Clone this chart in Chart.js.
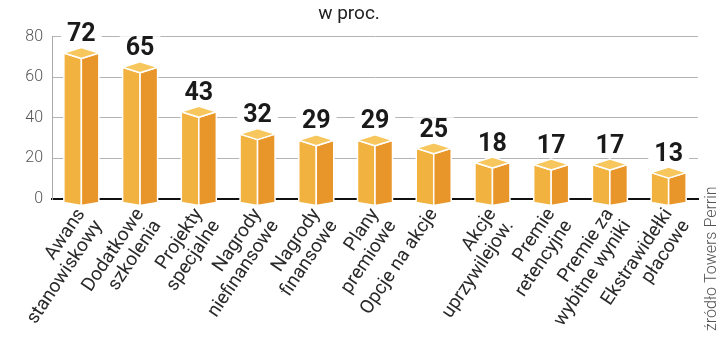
<!DOCTYPE html>
<html>
<head>
<meta charset="utf-8">
<script src="https://cdn.jsdelivr.net/npm/chart.js@4"></script>
<style>
  html, body { margin: 0; padding: 0; background: #fff; }
  #wrap { width: 720px; height: 344px; }
</style>
</head>
<body>
<div id="wrap"><canvas id="c"></canvas></div>
<script>
// Data
const categories = [
  ['Awans', 'stanowiskowy'],
  ['Dodatkowe', 'szkolenia'],
  ['Projekty', 'specjalne'],
  ['Nagrody', 'niefinansowe'],
  ['Nagrody', 'finansowe'],
  ['Plany', 'premiowe'],
  'Opcje na akcje',
  ['Akcje', 'uprzywilejow.'],
  ['Premie', 'retencyjne'],
  ['Premie za', 'wybitne wyniki'],
  ['Ekstrawidełki', 'płacowe'],
];
const values = [72, 65, 43, 32, 29, 29, 25, 18, 17, 17, 13];
const yTicks = [0, 20, 40, 60, 80];

const FRONT = '#f2b23f';
const SIDE = '#e8962a';
const TOP = '#f7c65c';

// draws each bar as a little isometric box, using the bar element geometry
const boxBars = {
  id: 'boxBars',
  afterDatasetsDraw(chart) {
    const ctx = chart.ctx;
    const meta = chart.getDatasetMeta(0);
    ctx.save();
    ctx.lineJoin = 'round';
    meta.data.forEach((bar, i) => {
      const { x, y, base, width } = bar.getProps(['x', 'y', 'base', 'width'], true);
      const l = x - width / 2, r = x + width / 2;
      const d = 5.5;      // half-height of the top diamond
      const b = base + 4; // boxes sit a bit below the axis line
      const faces = [
        [FRONT, [[l, y], [x, y + d], [x, b + 3], [l, b]]],
        [SIDE, [[x, y + d], [r, y], [r, b], [x, b + 3]]],
        [TOP, [[l, y], [x, y - d], [r, y], [x, y + d]]],
      ];
      faces.forEach(([color, pts]) => {
        ctx.beginPath();
        pts.forEach(([px, py], k) => k ? ctx.lineTo(px, py) : ctx.moveTo(px, py));
        ctx.closePath();
        ctx.fillStyle = color;
        ctx.fill();
        ctx.strokeStyle = '#fff';
        ctx.lineWidth = 1.5;
        ctx.stroke();
      });

      // value label with white backdrop that breaks the gridlines
      const label = String(values[i]);
      ctx.font = "700 25px Roboto, 'Liberation Sans', sans-serif";
      const tw = ctx.measureText(label).width;
      const ty = y - 19;
      ctx.fillStyle = '#fff';
      ctx.fillRect(x - tw / 2 - 6, ty - 12, tw + 12, 23);
      ctx.fillStyle = '#1a1a1a';
      ctx.textAlign = 'center';
      ctx.textBaseline = 'middle';
      ctx.fillText(label, x, ty + 1);
    });

    // source note, rotated on the right edge
    ctx.translate(712, 331);
    ctx.rotate(-Math.PI / 2);
    ctx.font = "300 16px Roboto, 'Liberation Sans', sans-serif";
    ctx.fillStyle = '#555';
    ctx.textAlign = 'left';
    ctx.textBaseline = 'middle';
    ctx.fillText('źródło Towers Perrin', 0, 0);
    ctx.restore();
  }
};

new Chart(document.getElementById('c'), {
  type: 'bar',
  data: {
    labels: categories,
    datasets: [{
      data: values,
      barThickness: 35,
      backgroundColor: 'rgba(0,0,0,0)',
      borderWidth: 0,
    }],
  },
  plugins: [boxBars],
  options: {
    responsive: true,
    maintainAspectRatio: false,
    animation: false,
    layout: { padding: { left: 0, right: 22, top: 0, bottom: 0 } },
    plugins: {
      legend: { display: false },
      tooltip: { enabled: false },
      title: {
        display: true,
        text: 'w proc.',
        color: '#222',
        font: { family: "Roboto, 'Liberation Sans', sans-serif", size: 19, weight: '400', lineHeight: 1.2 },
        padding: { top: 3, bottom: 11 },
      },
    },
    scales: {
      x: {
        grid: { display: false, drawTicks: false },
        border: { display: true, color: '#111', width: 2 },
        ticks: {
          autoSkip: false,
          minRotation: 56,
          maxRotation: 56,
          padding: 6,
          color: '#2a2a2a',
          font: { family: "Roboto, 'Liberation Sans', sans-serif", size: 19, lineHeight: 1.1 },
        },
        afterFit(scale) { scale.height = 145; },
      },
      y: {
        min: 0,
        max: 80,
        afterBuildTicks(scale) { scale.ticks = yTicks.map(v => ({ value: v })); },
        grid: { color: '#b4b4b4', lineWidth: 1, drawTicks: false },
        border: { display: true, color: '#aaa', width: 1 },
        ticks: {
          padding: 9,
          color: '#555',
          font: { family: "Roboto, 'Liberation Sans', sans-serif", size: 16, weight: '300' },
        },
        afterFit(scale) { scale.width = 52; },
      },
    },
  },
});
</script>
</body>
</html>
